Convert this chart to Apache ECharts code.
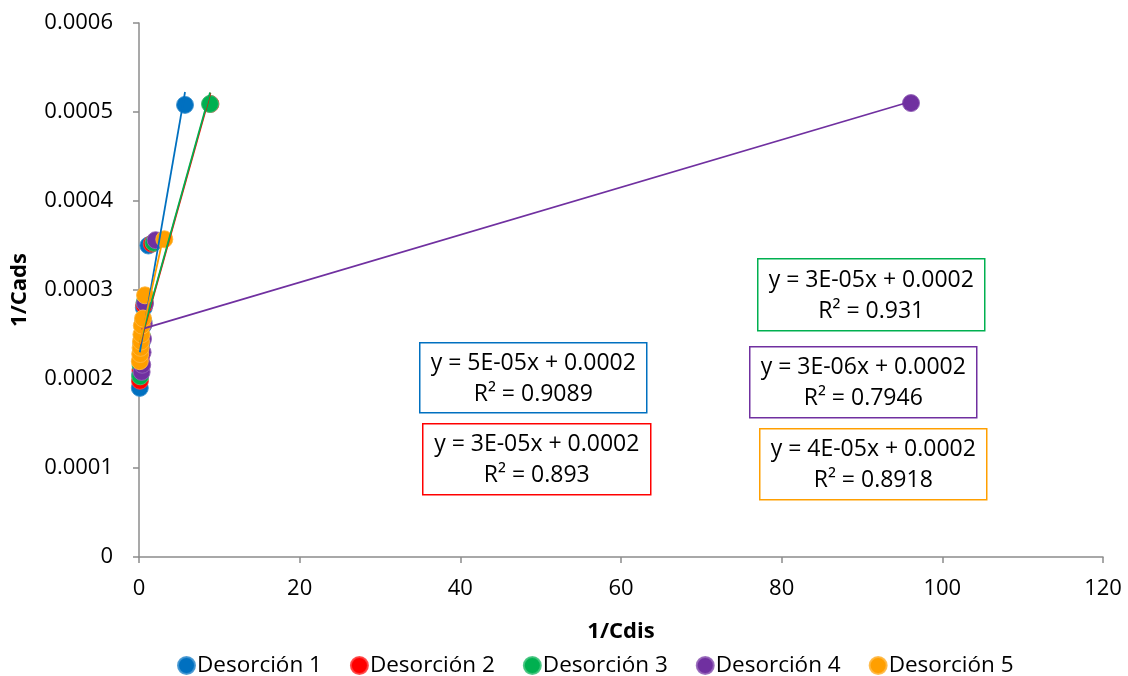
<!DOCTYPE html>
<html>
<head>
<meta charset="utf-8">
<script src="https://cdn.jsdelivr.net/npm/echarts@6/dist/echarts.min.js"></script>
<style>
  html, body { margin: 0; padding: 0; background: #fff; }
  #chart { width: 1128px; height: 676px; }
</style>
</head>
<body>
<div id="chart"></div>
<script>
// Desorption isotherm linearisation: 1/Cads against 1/Cdis for five runs
const seriesNames = ['Desorción 1', 'Desorción 2', 'Desorción 3', 'Desorción 4', 'Desorción 5'];
const seriesColors = ['#0070C0', '#FF0000', '#00B050', '#7030A0', '#FF9F00'];

const desorcion1 = [[0.10, 0.000190], [0.15, 0.000205], [0.20, 0.000220], [0.30, 0.000240],
                    [0.50, 0.000260], [0.60, 0.000280], [1.16, 0.000350], [5.73, 0.000508]];
const desorcion2 = [[0.12, 0.000198], [0.18, 0.000210], [0.25, 0.000225], [0.35, 0.000245],
                    [0.50, 0.000262], [0.65, 0.000283], [1.58, 0.000352], [8.90, 0.000509]];
const desorcion3 = [[0.15, 0.000203], [0.20, 0.000215], [0.28, 0.000230], [0.38, 0.000248],
                    [0.55, 0.000265], [0.70, 0.000286], [1.80, 0.000353], [8.84, 0.000509]];
const desorcion4 = [[0.33, 0.000208], [0.40, 0.000216], [0.45, 0.000230], [0.50, 0.000245],
                    [0.60, 0.000262], [0.75, 0.000285], [2.07, 0.000356], [96.1, 0.000510]];
const desorcion5 = [[0.10, 0.000220], [0.15, 0.000228], [0.20, 0.000235], [0.25, 0.000242],
                    [0.30, 0.000250], [0.35, 0.000260], [0.50, 0.000268], [0.75, 0.000294],
                    [3.15, 0.000357]];

const equationLabels = [
  ['y = 5E-05x + 0.0002', 'R² = 0.9089'],
  ['y = 3E-05x + 0.0002', 'R² = 0.893'],
  ['y = 3E-05x + 0.0002', 'R² = 0.931'],
  ['y = 3E-06x + 0.0002', 'R² = 0.7946'],
  ['y = 4E-05x + 0.0002', 'R² = 0.8918']
];

const xTicks = { min: 0, max: 120, interval: 20 };
const yTicks = { min: 0, max: 0.0006, interval: 0.0001 };

const allData = [desorcion1, desorcion2, desorcion3, desorcion4, desorcion5];

// where each equation box sits on the page (left, top, width, height)
const boxRects = [
  [419, 342, 227, 70],
  [422, 423, 228, 71],
  [757, 258, 227, 72],
  [749, 346, 227, 71],
  [759, 428, 227, 71]
];

// least-squares line over the run's x range
function linearFit(pts) {
  const n = pts.length;
  let sx = 0, sy = 0;
  pts.forEach(p => { sx += p[0]; sy += p[1]; });
  const mx = sx / n, my = sy / n;
  let sxy = 0, sxx = 0;
  pts.forEach(p => { sxy += (p[0] - mx) * (p[1] - my); sxx += (p[0] - mx) * (p[0] - mx); });
  const slope = sxy / sxx;
  const icpt = my - slope * mx;
  const xs = pts.map(p => p[0]);
  const x0 = Math.min.apply(null, xs), x1 = Math.max.apply(null, xs);
  return [[x0, icpt + slope * x0], [x1, icpt + slope * x1]];
}

const FONT = 'Open Sans';
const FS = 22;

const series = [];
allData.forEach((pts, i) => {
  series.push({
    name: seriesNames[i],
    type: 'scatter',
    data: pts,
    symbol: 'circle',
    symbolSize: 17,
    z: 2 + i * 0.1,
    itemStyle: {
      color: seriesColors[i],
      borderColor: echarts.color.modifyAlpha(echarts.color.lift(seriesColors[i], 0.25), 0.9),
      borderWidth: 1,
      opacity: 1
    },
    emphasis: { disabled: true }
  });
});
allData.forEach((pts, i) => {
  series.push({
    name: seriesNames[i] + ' tendencia',
    type: 'line',
    data: linearFit(pts),
    symbol: 'none',
    z: 5,
    lineStyle: { color: seriesColors[i], width: 1.75 },
    silent: true
  });
});

const graphics = [];
boxRects.forEach((r, i) => {
  graphics.push({
    type: 'group',
    left: r[0], top: r[1],
    z: 10,
    children: [
      { type: 'rect', shape: { x: 0, y: 0, width: r[2], height: r[3] },
        style: { fill: '#fff', stroke: seriesColors[i], lineWidth: 1.5 } },
      { type: 'text', x: r[2] / 2, y: r[3] / 2 + 1,
        style: { text: equationLabels[i].join('\n'), fill: '#000', font: '23px "' + FONT + '"',
                 align: 'center', verticalAlign: 'middle', lineHeight: 31 } }
    ]
  });
});

const chart = echarts.init(document.getElementById('chart'), null, { renderer: 'canvas' });
chart.setOption({
  animation: false,
  backgroundColor: '#fff',
  textStyle: { fontFamily: FONT },
  grid: { left: 139, right: 25, top: 23, bottom: 119, containLabel: false },
  xAxis: {
    type: 'value',
    min: xTicks.min, max: xTicks.max, interval: xTicks.interval,
    name: '1/Cdis', nameLocation: 'middle', nameGap: 64,
    nameTextStyle: { fontSize: FS, fontWeight: 'bold', color: '#000', fontFamily: FONT },
    axisLine: { show: true, lineStyle: { color: '#8C8C8C', width: 1.5 } },
    axisTick: { show: true, length: 6, lineStyle: { color: '#8C8C8C', width: 1.5 } },
    axisLabel: { fontSize: FS, color: '#000', margin: 21, fontFamily: FONT },
    splitLine: { show: false }
  },
  yAxis: {
    type: 'value',
    min: yTicks.min, max: yTicks.max, interval: yTicks.interval,
    name: '1/Cads', nameLocation: 'middle', nameGap: 108, nameRotate: 90,
    nameTextStyle: { fontSize: FS, fontWeight: 'bold', color: '#000', fontFamily: FONT },
    axisLine: { show: true, lineStyle: { color: '#8C8C8C', width: 1.5 } },
    axisTick: { show: true, length: 6, lineStyle: { color: '#8C8C8C', width: 1.5 } },
    axisLabel: {
      fontSize: FS, color: '#000', margin: 26, fontFamily: FONT,
      formatter: v => (Math.abs(v) < 1e-12 ? '0' : v.toFixed(4))
    },
    splitLine: { show: false }
  },
  legend: {
    data: seriesNames,
    top: 649,
    left: 172,
    icon: 'circle',
    itemWidth: 17, itemHeight: 17, itemGap: 28,
    textStyle: { fontSize: 22.5, color: '#000', fontFamily: FONT, padding: [0, 0, 0, -3] }
  },
  series: series,
  graphic: graphics
});
</script>
</body>
</html>
